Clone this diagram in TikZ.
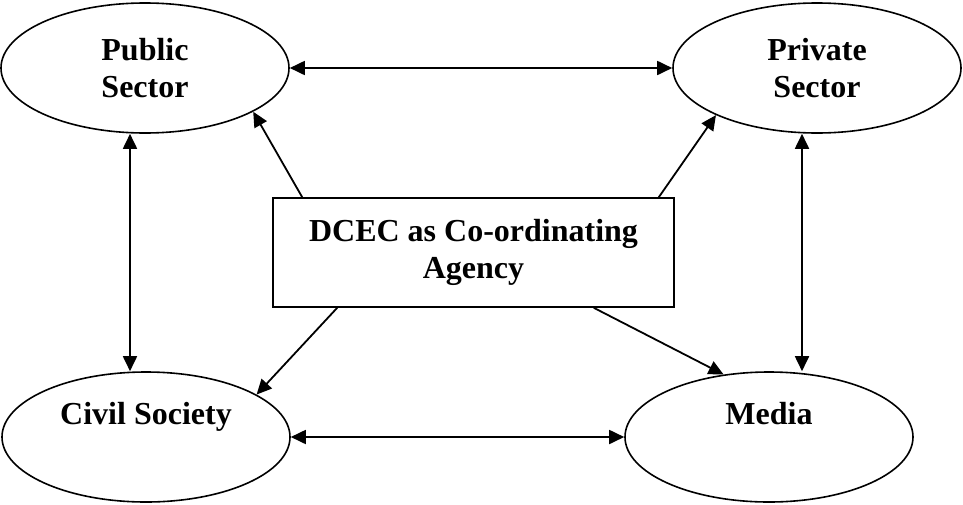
\documentclass[tikz,border=0pt]{standalone}
\usepackage{fontspec}
\setmainfont{Liberation Serif}
\usetikzlibrary{shapes.geometric,arrows.meta}

\tikzset{
  sector/.style={draw, line width=0.8pt, ellipse, minimum width=144pt, minimum height=65pt,
    inner sep=0pt, align=center, font=\bfseries\fontsize{16}{18.5}\selectfont},
  agency/.style={draw, line width=0.8pt, rectangle, minimum width=200.5pt, minimum height=54.5pt,
    inner sep=0pt, align=center, font=\bfseries\fontsize{16}{18.5}\selectfont},
  link/.style={line width=0.9pt, -{Triangle[length=7.5pt,width=7pt]}},
  twoway/.style={line width=0.9pt, {Triangle[length=7.5pt,width=7pt]}-{Triangle[length=7.5pt,width=7pt]}}
}

\begin{document}
\begin{tikzpicture}[x=0.5pt, y=-0.5pt]
    \useasboundingbox (0,0) rectangle (963,504);

    % The four sectors
    \node[sector] (pub)  at (145,68)  {Public\\Sector};
    \node[sector] (priv) at (817,68)  {Private\\Sector};
    \node[sector] (civ)  at (146,437) {Civil Society\\\strut};
    \node[sector] (med)  at (769,437) {Media\\\strut};

    % Co-ordinating body in the middle
    \node[agency] (dcec) at (473.5,252.5) {DCEC as Co-ordinating\\Agency};

    % Two-way links between the sectors
    \draw[twoway] (pub.east) -- (priv.west);
    \draw[twoway] (civ.east) -- (med.west);
    \draw[twoway] ([xshift=-7.5pt]pub.south) -- ([xshift=-7.5pt]pub.south |- civ.north);
    \draw[twoway] ([xshift=-7.5pt]priv.south) -- ([xshift=-7.5pt]priv.south |- med.north);

    % From DCEC out to each sector
    \draw[link] ([xshift=15pt]dcec.north west) -- (pub.-22);
    \draw[link] ([xshift=-8pt]dcec.north east) -- (priv.-155);
    \draw[link] ([xshift=32.5pt]dcec.south west) -- (civ.21);
    \draw[link] ([xshift=-40.5pt]dcec.south east) -- (med.126);
\end{tikzpicture}
\end{document}
